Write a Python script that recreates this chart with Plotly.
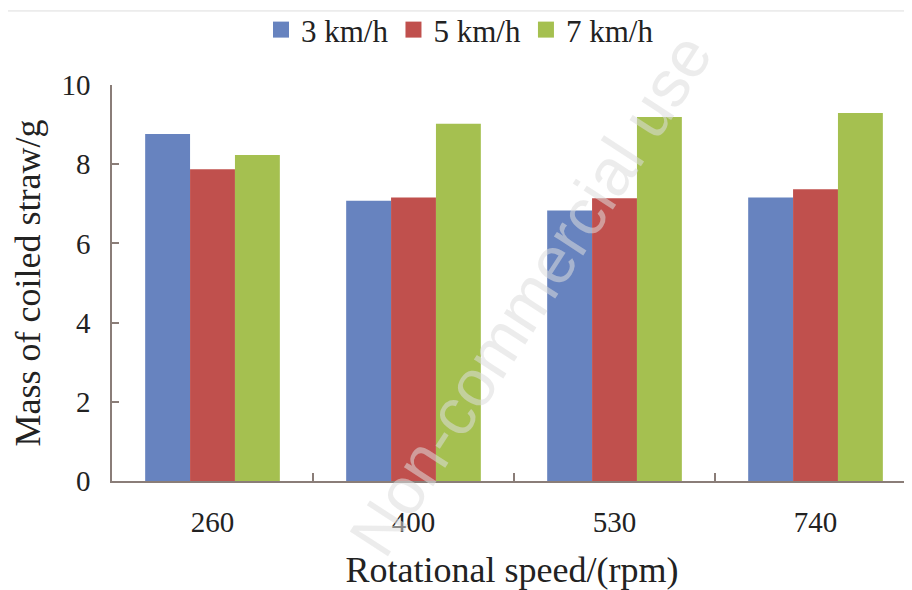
import plotly.graph_objects as go

categories = ["260", "400", "530", "740"]
series_names = ["3 km/h", "5 km/h", "7 km/h"]
v3 = [8.76, 7.08, 6.83, 7.16]
v5 = [7.87, 7.16, 7.14, 7.37]
v7 = [8.23, 9.02, 9.19, 9.29]
colors = ["#6783BF", "#C0504D", "#A5C050"]
y_ticks = [0, 2, 4, 6, 8, 10]

font_family = "Liberation Serif"
axis_col = "#8a7d78"

fig = go.Figure()
for name, vals, col in zip(series_names, [v3, v5, v7], colors):
    fig.add_trace(go.Bar(x=categories, y=vals, name=name, showlegend=False,
                         marker=dict(color=col, line=dict(width=0))))
# legend entries with larger square swatches
for name, col in zip(series_names, colors):
    fig.add_trace(go.Scatter(x=[None], y=[None], mode="markers", name=name,
                             marker=dict(symbol="square", size=16, color=col)))

fig.add_annotation(text="Non-commercial use", xref="paper", yref="paper", x=0.5225, y=0.47,
                   showarrow=False, textangle=-57,
                   font=dict(family="Liberation Sans", size=66, color="rgba(220,220,220,0.55)"))

fig.update_layout(
    width=904, height=582,
    margin=dict(l=104, r=0, t=77, b=109, autoexpand=False),
    paper_bgcolor="white", plot_bgcolor="white",
    barmode="group", bargap=0.33, bargroupgap=0,
    font=dict(family=font_family, color="#222222"),
    legend=dict(orientation="h", x=0.435, y=1.139, xanchor="center", yanchor="middle",
                bgcolor="rgba(0,0,0,0)",
                font=dict(size=31, family=font_family, color="#222222"), tracegroupgap=0,
                itemwidth=30),
    xaxis=dict(showline=True, linecolor=axis_col, linewidth=1.5, ticks="inside",
               tickson="boundaries", ticklen=8, tickcolor=axis_col, tickwidth=1.5,
               range=[-0.5, 3.48], tickfont=dict(size=29), ticklabelstandoff=14,
               title=dict(text="Rotational speed/(rpm)", font=dict(size=36), standoff=21),
               showgrid=False, automargin=False),
    yaxis=dict(showline=True, linecolor=axis_col, linewidth=1.5, ticks="inside",
               ticklen=7, tickcolor=axis_col, tickwidth=1.5, range=[0, 10],
               tickvals=y_ticks, tickfont=dict(size=29), ticklabelstandoff=14,
               title=dict(text="Mass of coiled straw/g", font=dict(size=36), standoff=14),
               showgrid=False, zeroline=False, automargin=False),
)
fig.add_shape(type="line", xref="paper", yref="paper", x0=-0.13, x1=1.01, y0=1.187, y1=1.187,
              line=dict(color="#dddddd", width=1))
fig.write_html("out.html")
